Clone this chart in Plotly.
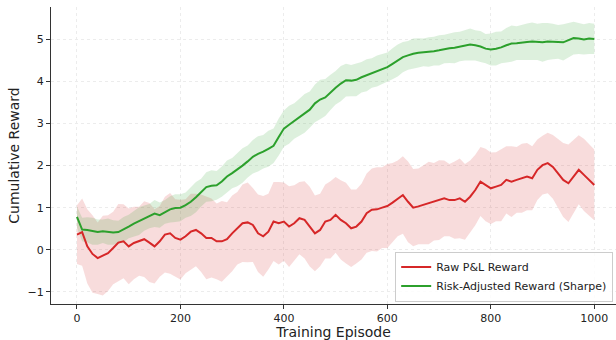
import plotly.graph_objects as go

episodes = list(range(0, 1001, 10))

raw_mean = [0.36, 0.42, 0.08, -0.10, -0.20, -0.14, -0.08, 0.04, 0.17, 0.20,
            0.08, 0.16, 0.20, 0.25, 0.17, 0.08, 0.20, 0.36, 0.39, 0.28,
            0.24, 0.32, 0.43, 0.47, 0.39, 0.28, 0.28, 0.20, 0.20, 0.25,
            0.39, 0.51, 0.63, 0.65, 0.59, 0.39, 0.32, 0.43, 0.67, 0.63,
            0.67, 0.55, 0.63, 0.75, 0.71, 0.55, 0.39, 0.47, 0.67, 0.71,
            0.83, 0.71, 0.63, 0.51, 0.55, 0.67, 0.87, 0.95, 0.96, 1.00,
            1.04, 1.12, 1.22, 1.30, 1.14, 1.00, 1.03, 1.07, 1.11, 1.14,
            1.18, 1.22, 1.18, 1.18, 1.22, 1.14, 1.26, 1.42, 1.62, 1.54,
            1.46, 1.50, 1.54, 1.66, 1.62, 1.66, 1.70, 1.74, 1.70, 1.90,
            2.01, 2.06, 1.97, 1.82, 1.66, 1.58, 1.74, 1.90, 1.78, 1.66,
            1.54]

raw_std = [0.70, 0.80, 0.88, 0.92, 0.85, 0.95, 0.90, 0.86, 0.92, 0.88,
           0.90, 0.86, 0.82, 0.90, 0.94, 0.88, 0.84, 0.90, 0.96, 0.92,
           0.95, 0.88, 0.90, 0.86, 0.92, 0.98, 0.94, 0.90, 0.96, 0.88,
           0.90, 0.86, 0.92, 0.95, 0.88, 0.92, 0.96, 0.90, 0.94, 0.98,
           0.93, 0.96, 0.90, 0.86, 0.92, 0.95, 0.90, 0.86, 0.88, 0.92,
           0.90, 0.94, 0.96, 0.92, 0.88, 0.90, 0.94, 0.98, 1.00, 0.96,
           1.00, 0.94, 0.90, 0.92, 0.96, 0.92, 0.90, 0.94, 0.98, 0.92,
           0.95, 0.90, 0.86, 0.92, 0.95, 0.90, 0.86, 0.84, 0.82, 0.86,
           0.85, 0.82, 0.86, 0.80, 0.84, 0.78, 0.82, 0.80, 0.76, 0.72,
           0.70, 0.72, 0.76, 0.82, 0.88, 0.92, 0.86, 0.82, 0.86, 0.84,
           0.84]

sharpe_mean = [0.78, 0.48, 0.47, 0.44, 0.42, 0.44, 0.43, 0.41, 0.42, 0.48,
               0.55, 0.62, 0.68, 0.75, 0.80, 0.86, 0.82, 0.90, 0.96, 0.99,
               1.00, 1.06, 1.14, 1.25, 1.36, 1.49, 1.52, 1.53, 1.62, 1.74,
               1.82, 1.90, 2.00, 2.10, 2.21, 2.28, 2.33, 2.40, 2.47, 2.68,
               2.88, 2.97, 3.06, 3.15, 3.24, 3.33, 3.48, 3.57, 3.62, 3.74,
               3.85, 3.95, 4.03, 4.02, 4.04, 4.10, 4.15, 4.20, 4.25, 4.30,
               4.34, 4.42, 4.50, 4.58, 4.62, 4.66, 4.68, 4.69, 4.70, 4.72,
               4.74, 4.77, 4.79, 4.80, 4.83, 4.86, 4.88, 4.86, 4.83, 4.78,
               4.76, 4.78, 4.81, 4.86, 4.90, 4.91, 4.93, 4.94, 4.95, 4.94,
               4.93, 4.95, 4.95, 4.94, 4.93, 4.98, 5.03, 5.02, 5.00, 5.02,
               5.01]

sharpe_std = [0.25, 0.28, 0.30, 0.32, 0.30, 0.28, 0.31, 0.29, 0.27, 0.30,
              0.28, 0.31, 0.33, 0.30, 0.29, 0.32, 0.30, 0.28, 0.31, 0.33,
              0.32, 0.30, 0.34, 0.36, 0.33, 0.35, 0.37, 0.34, 0.36, 0.38,
              0.36, 0.39, 0.41, 0.38, 0.40, 0.42, 0.40, 0.43, 0.41, 0.44,
              0.43, 0.45, 0.42, 0.44, 0.46, 0.43, 0.45, 0.47, 0.44, 0.42,
              0.40, 0.42, 0.39, 0.37, 0.39, 0.36, 0.38, 0.35, 0.37, 0.36,
              0.35, 0.37, 0.38, 0.36, 0.34, 0.36, 0.35, 0.33, 0.35, 0.34,
              0.36, 0.34, 0.35, 0.37, 0.35, 0.36, 0.38, 0.36, 0.37, 0.35,
              0.38, 0.40, 0.38, 0.41, 0.43, 0.40, 0.42, 0.44, 0.45, 0.43,
              0.46, 0.44, 0.42, 0.40, 0.43, 0.41, 0.39, 0.37, 0.36, 0.37,
              0.36]

series = [
    ("Raw P&L Reward", raw_mean, raw_std, "#d62728", "rgba(214,39,40,0.16)"),
    ("Risk-Adjusted Reward (Sharpe)", sharpe_mean, sharpe_std, "#2ca02c", "rgba(44,160,44,0.16)"),
]

fig = go.Figure()
for name, mean, std, color, fillc in series:
    upper = [m + s for m, s in zip(mean, std)]
    lower = [m - s for m, s in zip(mean, std)]
    fig.add_trace(go.Scatter(x=episodes, y=upper, mode="lines", line=dict(width=0),
                             hoverinfo="skip", showlegend=False, legendgroup=name))
    fig.add_trace(go.Scatter(x=episodes, y=lower, mode="lines", line=dict(width=0),
                             fill="tonexty", fillcolor=fillc, hoverinfo="skip",
                             showlegend=False, legendgroup=name))
for name, mean, std, color, fillc in series:
    fig.add_trace(go.Scatter(x=episodes, y=mean, mode="lines", name=name,
                             line=dict(color=color, width=2), legendgroup=name))

axis_common = dict(
    showgrid=True, gridcolor="#ececec", griddash="3px,3px", gridwidth=0.8,
    zeroline=False, showline=True, linecolor="#333333", linewidth=1.2,
    ticks="outside", ticklen=4, tickwidth=1, tickcolor="#333333",
    tickfont=dict(family="DejaVu Sans", size=11, color="#222222"),
    mirror=False, automargin=False,
)

fig.update_layout(
    width=616, height=340,
    margin=dict(l=51, r=0, t=7, b=36),
    paper_bgcolor="white", plot_bgcolor="white",
    font=dict(family="DejaVu Sans", color="#222222"),
    xaxis=dict(range=[-50.2, 1042], tickvals=[0, 200, 400, 600, 800, 1000],
               title=dict(text="Training Episode", font=dict(size=14), standoff=3),
               **axis_common),
    yaxis=dict(range=[-1.29, 5.77], tickvals=[-1, 0, 1, 2, 3, 4, 5],
               title=dict(text="Cumulative Reward", font=dict(size=14), standoff=4),
               **axis_common),
    legend=dict(x=0.995, y=0.008, xanchor="right", yanchor="bottom",
                bgcolor="rgba(255,255,255,0.85)", bordercolor="#cccccc", borderwidth=1,
                font=dict(family="DejaVu Sans", size=11, color="#222222"),
                tracegroupgap=0, itemwidth=30),
    showlegend=True,
)

fig.write_html("out.html", config={"displayModeBar": False},
               post_script="document.body.style.margin='0';document.body.style.overflow='hidden';")
